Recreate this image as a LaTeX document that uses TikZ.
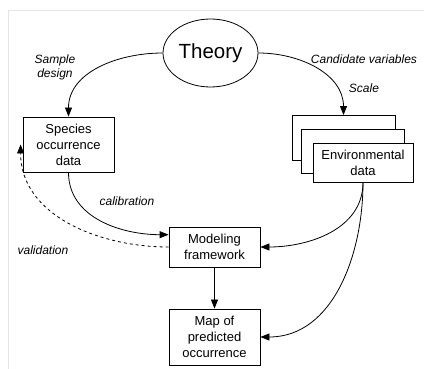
\documentclass[tikz,border=0pt]{standalone}
\usepackage{fontspec}
\setmainfont{Liberation Sans}
\usepackage{tikz}
\usetikzlibrary{arrows.meta,positioning}
\usetikzlibrary{shapes.geometric}

\begin{document}
\begin{tikzpicture}[x=1pt, y=-1pt, node distance=90pt]
	\tikzstyle{theorybox} = [ellipse, draw=black, line width=0.8pt, minimum width=95pt,
	minimum height=68pt, inner sep=0pt, font=\fontsize{20.5}{24}\selectfont]
	\tikzstyle{process} = [rectangle, minimum width=91pt, text centered, align=center,
	draw=black, line width=0.8pt, fill=white, inner sep=2pt, font=\fontsize{13}{16}\selectfont]
	\tikzstyle{stack} = [rectangle, minimum width=103pt, minimum height=45pt,
	draw=black, line width=0.8pt, fill=white]
	\tikzstyle{lbl} = [align=center, font=\fontsize{12}{14}\selectfont\itshape]
	\tikzstyle{arrow} = [line width=0.8pt, -{Triangle[length=9pt,width=7pt]}]
	% frame and size
	\useasboundingbox (0,0) rectangle (424,369);
	\draw [gray!20, line width=0.8pt] (8,369) -- (8,10) -- (424,10);
	\node (theory) [theorybox] at (210.5,53) {Theory};
	\node (species) [process, minimum height=55pt, below of=theory, xshift=-142pt, yshift=-1.5pt] {Species\\occurrence\\data};
	\node (envBack) [stack] at (343.5,138) {};
	\node (envMid) [stack, minimum height=44pt] at (352.5,151) {};
	\node (envFront) [process, minimum width=100pt, minimum height=39pt] at (363,162.5) {Environmental\\data};
	\node (model) [process, minimum height=40pt] at (214.5,247) {Modeling\\framework};
	\node (map) [process, minimum height=56pt, below of=model] {Map of\\predicted\\occurrence};
	\node (design) [lbl] at (55,67) {Sample\\design};
	\node (candidate) [lbl] at (364,59) {Candidate variables};
	\node (scale) [lbl] at (364,88) {Scale};
	\node (calibration) [lbl] at (127,201) {calibration};
	\node (validation) [lbl] at (43,250) {validation};
	\draw [arrow] (theory.west) to[out=180, in=90] (species.north);
	\draw [arrow] (theory.east) to[out=0, in=90] (envBack.north);
	\draw [arrow] (species.south) to[out=-90, in=180] (model.165);
	\draw [arrow, dashed] (model.west) to[out=180, in=-90] ([xshift=-2pt]species.west);
	\draw [arrow] (envFront.south) to[out=-90, in=0] (model.east);
	\draw [arrow] (envFront.south) to[out=-90, in=0] (map.east);
	\draw [arrow] (model) -- (map);
\end{tikzpicture}
\end{document}
